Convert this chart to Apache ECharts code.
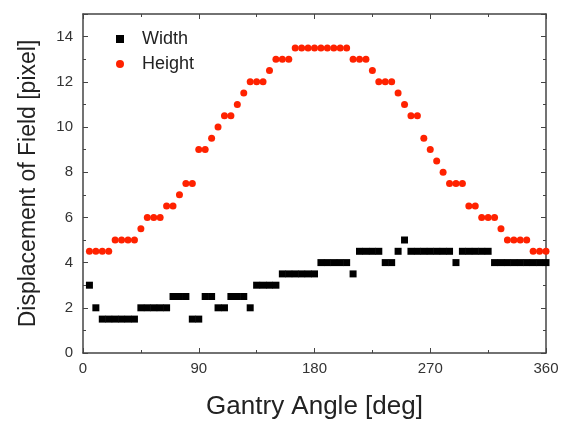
<!DOCTYPE html>
<html>
<head>
<meta charset="utf-8">
<script src="https://cdn.jsdelivr.net/npm/echarts@6/dist/echarts.min.js"></script>
<style>
  html, body { margin: 0; padding: 0; background: #fff; }
  #chart { width: 562px; height: 421px; }
</style>
</head>
<body>
<div id="chart"></div>
<script>
// gantry angles, 5 deg steps
const angles = []
for (let a = 5; a <= 360; a += 5) angles.push(a)

// displacement
const widthVals = [
  3, 2, 1.5, 1.5, 1.5, 1.5, 1.5, 1.5, 2, 2, 2, 2, 2, 2.5, 2.5, 2.5,
  1.5, 1.5, 2.5, 2.5, 2, 2, 2.5, 2.5, 2.5, 2, 3, 3, 3, 3,
  3.5, 3.5, 3.5, 3.5, 3.5, 3.5, 4, 4, 4, 4, 4, 3.5, 4.5, 4.5, 4.5, 4.5,
  4, 4, 4.5, 5, 4.5, 4.5, 4.5, 4.5, 4.5, 4.5, 4.5, 4, 4.5, 4.5, 4.5, 4.5, 4.5,
  4, 4, 4, 4, 4, 4, 4, 4, 4
]
const heightVals = [
  4.5, 4.5, 4.5, 4.5, 5, 5, 5, 5, 5.5, 6, 6, 6, 6.5, 6.5, 7, 7.5, 7.5,
  9, 9, 9.5, 10, 10.5, 10.5, 11, 11.5, 12, 12, 12, 12.5, 13, 13, 13,
  13.5, 13.5, 13.5, 13.5, 13.5, 13.5, 13.5, 13.5, 13.5, 13, 13, 13, 12.5,
  12, 12, 12, 11.5, 11, 10.5, 10.5, 9.5, 9, 8.5, 8, 7.5, 7.5, 7.5,
  6.5, 6.5, 6, 6, 6, 5.5, 5, 5, 5, 5, 4.5, 4.5, 4.5
]

const font = 'Liberation Sans, Arial, sans-serif'
const axisColor = '#444'
const labelColor = '#333'
const red = '#ff2200'

const chart = echarts.init(document.getElementById('chart'))

const baseAxis = {
  axisLine: { show: true, onZero: false, lineStyle: { color: axisColor, width: 1.5 } },
  axisTick: { show: true, inside: true, length: 5, lineStyle: { color: axisColor } },
  minorTick: { show: true, splitNumber: 2, length: 3, lineStyle: { color: axisColor } },
  splitLine: { show: false }
}

chart.setOption({
  animation: false,
  grid: { left: 83, right: 16, top: 14, bottom: 68, containLabel: false, outerBoundsMode: 'none' },
  legend: {
    left: 111, top: 25, orient: 'vertical', itemGap: 7,
    itemWidth: 8, itemHeight: 8,
    textStyle: { fontSize: 18, lineHeight: 18, color: '#222', fontFamily: font, padding: [0, 0, 0, 13] },
    data: [
      { name: 'Width', icon: 'rect', itemStyle: { color: '#000', opacity: 1 } },
      { name: 'Height', icon: 'circle', itemStyle: { color: red, opacity: 1 } }
    ]
  },
  xAxis: [
    Object.assign({}, baseAxis, {
      type: 'value', min: 0, max: 360, interval: 90,
      name: 'Gantry Angle [deg]', nameLocation: 'middle', nameGap: 41,
      nameTextStyle: { fontSize: 26, color: '#222', fontFamily: font },
      axisLabel: { fontSize: 15, color: labelColor, margin: 8, fontFamily: font }
    }),
    Object.assign({}, baseAxis, {
      type: 'value', min: 0, max: 360, interval: 90, position: 'top',
      axisLabel: { show: false }
    })
  ],
  yAxis: [
    Object.assign({}, baseAxis, {
      type: 'value', min: 0, max: 15, interval: 2,
      name: 'Displacement of Field [pixel]', nameLocation: 'middle', nameGap: 43,
      nameTextStyle: { fontSize: 23, color: '#222', fontFamily: font },
      axisLabel: {
        fontSize: 15, color: labelColor, margin: 10, fontFamily: font,
        formatter: v => (v > 14 ? '' : v)
      }
    }),
    Object.assign({}, baseAxis, {
      type: 'value', min: 0, max: 15, interval: 2, position: 'right',
      axisLabel: { show: false }
    })
  ],
  series: [
    {
      name: 'Width', type: 'scatter', symbol: 'rect', symbolSize: 7, clip: true,
      itemStyle: { color: '#000', opacity: 1 },
      data: angles.map((a, i) => [a, widthVals[i]])
    },
    {
      name: 'Height', type: 'scatter', symbol: 'circle', symbolSize: 7, clip: true,
      itemStyle: { color: red, opacity: 1 },
      data: angles.map((a, i) => [a, heightVals[i]])
    }
  ]
})
</script>
</body>
</html>
